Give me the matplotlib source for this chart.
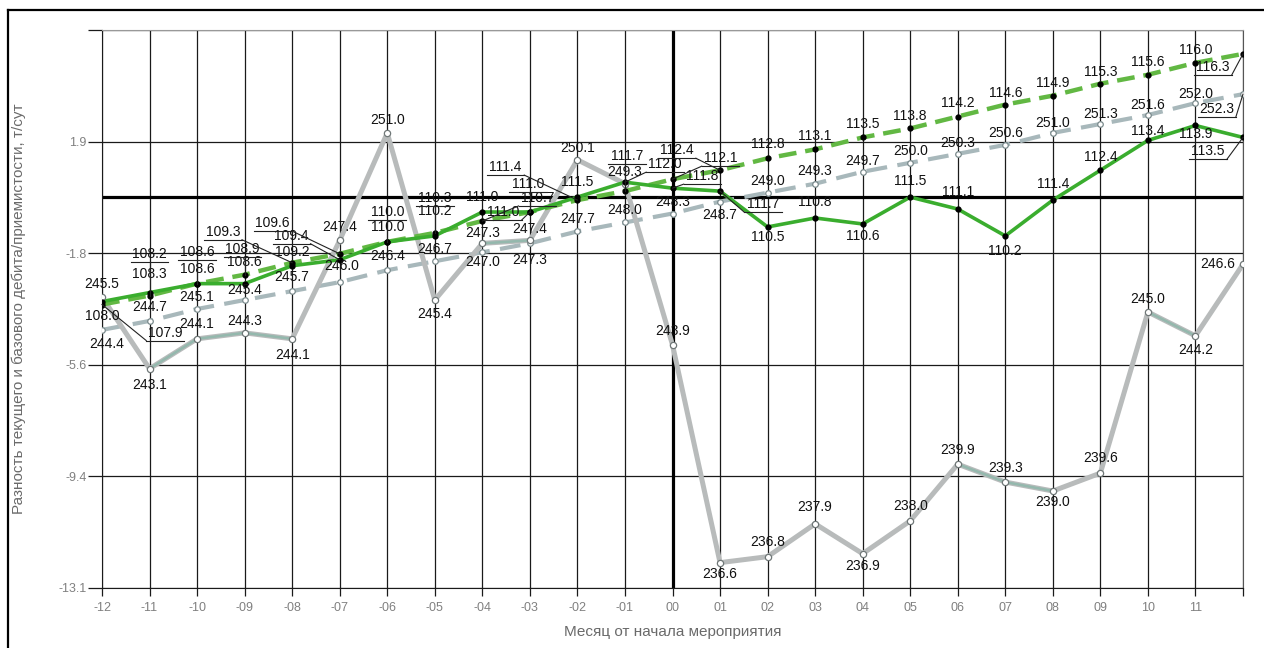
import matplotlib
matplotlib.use('Agg')  # no display
import matplotlib.pyplot as plt
from matplotlib.lines import Line2D
from matplotlib.transforms import IdentityTransform

plt.rcParams['font.family'] = ['Liberation Sans', 'DejaVu Sans']

# months from the start of the measure
months = list(range(-12, 13))
month_labels = ['-12', '-11', '-10', '-09', '-08', '-07', '-06', '-05', '-04', '-03', '-02', '-01',
                '00', '01', '02', '03', '04', '05', '06', '07', '08', '09', '10', '11', '']

# oil, t/day (green): actual and base trend
oil_fact = [108.0, 108.3, 108.6, 108.6, 109.2, 109.4, 110.0, 110.2, 111.0, 111.0, 111.5, 112.0,
            111.8, 111.7, 110.5, 110.8, 110.6, 111.5, 111.1, 110.2, 111.4, 112.4, 113.4, 113.9, 113.5]
oil_base = [107.9, 108.2, 108.6, 108.9, 109.3, 109.6, 110.0, 110.3, 110.7, 111.0, 111.4, 111.7,
            112.1, 112.4, 112.8, 113.1, 113.5, 113.8, 114.2, 114.6, 114.9, 115.3, 115.6, 116.0, 116.3]

# liquid, t/day (grey): actual and base trend
liq_fact = [245.5, 243.1, 244.1, 244.3, 244.1, 247.4, 251.0, 245.4, 247.3, 247.4, 250.1, 249.3,
            243.9, 236.6, 236.8, 237.9, 236.9, 238.0, 239.9, 239.3, 239.0, 239.6, 245.0, 244.2, 246.6]
liq_base = [244.4, 244.7, 245.1, 245.4, 245.7, 246.0, 246.4, 246.7, 247.0, 247.3, 247.7, 248.0,
            248.3, 248.7, 249.0, 249.3, 249.7, 250.0, 250.3, 250.6, 251.0, 251.3, 251.6, 252.0, 252.3]

# reference levels the difference is taken from
OIL_REF = 111.5
LIQ_REF = 248.85

ytick_pos = [-13.1, -9.36, -5.62, -1.88, 1.86, 5.6]
ytick_labels = ['-13.1', '-9.4', '-5.6', '-1.8', '1.9', '']

# label offsets in pixels (dx, dy up)
off_liq_fact = [(0, 13), (0, -16), (0, 15), (0, 12), (0, -16), (0, 13), (0, 13), (0, -14), (0, 10),
                (0, 11), (0, 12), (0, 12), (0, 14), (0, -11), (0, 15), (0, 17), (0, -12), (0, 15),
                (0, 14), (0, 14), (0, -11), (0, 15), (0, 13), (0, -14), (-25, 0)]
off_liq_base = [(5, -14), (0, 14), (0, 12), (0, 10), (0, 14), (2, 16), (0, 14), (0, 12), (0, -10),
                (0, -17), (0, 12), (0, 12), (0, 12), (0, -13), (0, 12), (0, 13), (0, 11), (0, 12),
                (0, 11), (0, 12), (0, 10), (0, 10), (0, 10), (0, 9), (-26, -15)]
off_oil_base = [(63, -28), (0, 42), (0, 32), (-2, 26), (-69, 31), (-67, 31), (0, 30), (0, 35),
                (55, 23), (-2, 28), (-72, 33), (2, 35), (48, 21), (-43, 20), (0, 14), (0, 13),
                (0, 13), (0, 12), (0, 14), (0, 12), (0, 13), (0, 12), (0, 13), (0, 13), (-30, -13)]
off_oil_fact = [(0, -14), (0, 19), (0, 15), (0, 22), (0, 14), (-48, 24), (0, 15), (0, 25), (0, 15),
                (-27, 0), (0, 15), (40, 18), (30, 12), (43, -13), (0, -10), (0, 16), (0, -12),
                (0, 16), (0, 17), (0, -15), (0, 16), (0, 13), (0, 9), (0, -9), (-35, -14)]

teal_segments = [1, 2, 3, 8, 18, 19, 22]

fig = plt.figure(figsize=(12.64, 6.48), dpi=100)
fig.patch.set_facecolor('white')
ax = fig.add_axes([102 / 1264, 1 - 588 / 648, 1141 / 1264, 558 / 648])
ax.set_xlim(-12, 12)
ax.set_ylim(-13.1, 5.6)

of_y = [v - OIL_REF for v in oil_fact]
ob_y = [v - OIL_REF for v in oil_base]
lf_y = [v - LIQ_REF for v in liq_fact]
lb_y = [v - LIQ_REF for v in liq_base]

ax.set_xticks(months)
ax.set_xticklabels(month_labels)
ax.set_yticks(ytick_pos)
ax.set_yticklabels(ytick_labels)
ax.grid(True, color='#1a1a1a', lw=0.9, zorder=1)
ax.set_axisbelow(True)
ax.tick_params(axis='y', length=10, width=0.9, color='#1a1a1a', labelcolor='#808080', labelsize=9, pad=1)
ax.tick_params(axis='x', length=6, width=0.9, color='#1a1a1a', labelcolor='#808080', labelsize=9, pad=4)
ax.spines['top'].set_color('#999999')
ax.spines['right'].set_color('#555555')
ax.spines['left'].set_color('#1a1a1a')
ax.spines['bottom'].set_color('#1a1a1a')
ax.axhline(0, color='black', lw=2.3, zorder=2)
ax.axvline(0, color='black', lw=2.3, zorder=2)

# grey lines (liquid)
ax.plot(months, lb_y, color='#a8b8bb', lw=3, dashes=(5, 2.5), zorder=3)
ax.plot(months, lb_y, ls='none', marker='o', ms=4, mfc='white', mec='#7a8a8c', mew=0.9, zorder=5)
ax.plot(months, lf_y, color='#b8bbbb', lw=3.6, solid_capstyle='round', zorder=3)
for i in teal_segments:
    ax.plot(months[i:i + 2], lf_y[i:i + 2], color='#94b8ad', lw=1.8, zorder=3)
ax.plot(months, lf_y, ls='none', marker='o', ms=4.5, mfc='white', mec='#707878', mew=0.9, zorder=5)

# green lines (oil)
ax.plot(months, ob_y, color='#62b843', lw=3.2, dashes=(4, 2), zorder=4)
ax.plot(months, of_y, color='#3aad2e', lw=2.6, zorder=4)
ax.plot(months, ob_y, ls='none', marker='o', ms=3.5, color='black', zorder=5)
ax.plot(months, of_y, ls='none', marker='o', ms=3.5, color='black', zorder=5)

ax.set_ylabel('Разность текущего и базового дебита/приемистости, т/сут', color='#6a6a6a', fontsize=11)
ax.yaxis.set_label_coords(-76 / 1141, 0.5)
ax.set_xlabel('Месяц от начала мероприятия', color='#6a6a6a', fontsize=11)
ax.xaxis.set_label_coords(0.5, -37 / 558)


def text_width(s):
    return sum(7.0 if c.isdigit() else 3.6 for c in s)


def put_labels(values, ys, offsets):
    for m, v, y, (dx, dy) in zip(months, values, ys, offsets):
        s = f'{v:.1f}'
        ax.annotate(s, xy=(m, y), xytext=(dx, dy), textcoords='offset pixels',
                    ha='center', va='center', fontsize=10, color='#111111', zorder=6)
        if (dx * dx + dy * dy) ** 0.5 >= 26:
            px, py = ax.transData.transform((m, y))
            tx, ty = px + dx, py + dy
            w = text_width(s) / 2 + 3
            uy = ty - 8
            x0, x1 = tx - w, tx + w
            fig.add_artist(Line2D([x0, x1], [uy, uy], transform=IdentityTransform(),
                                  color='#222222', lw=0.8, zorder=6))
            ex = min(max(px, x0), x1)
            fig.add_artist(Line2D([ex, px], [uy, py], transform=IdentityTransform(),
                                  color='#222222', lw=0.8, zorder=6))


put_labels(liq_base, lb_y, off_liq_base)
put_labels(liq_fact, lf_y, off_liq_fact)
put_labels(oil_base, ob_y, off_oil_base)
put_labels(oil_fact, of_y, off_oil_fact)

# outer frame
fig.add_artist(Line2D([8 / 1264, 8 / 1264], [0, 1 - 10 / 648], transform=fig.transFigure, color='black', lw=1.6))
fig.add_artist(Line2D([8 / 1264, 1], [1 - 10 / 648, 1 - 10 / 648], transform=fig.transFigure, color='black', lw=1.6))

fig.savefig('out.png', dpi=100)
plt.close(fig)
